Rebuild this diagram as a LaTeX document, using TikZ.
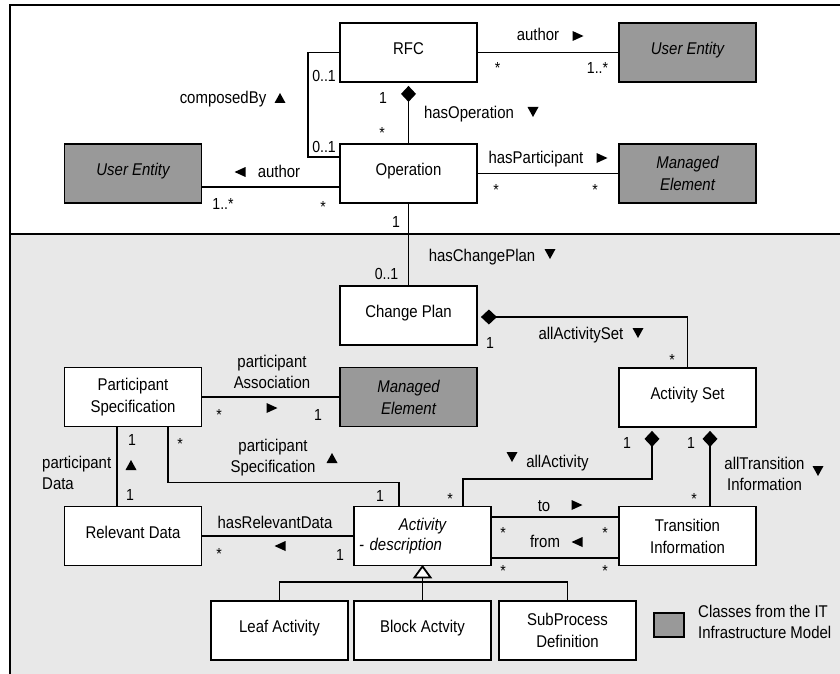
\documentclass[tikz,border=0pt]{standalone}
\usepackage{fontspec}
\setmainfont[FakeStretch=0.88]{Liberation Sans}
\usetikzlibrary{arrows.meta}
\definecolor{extgray}{HTML}{999999}
\definecolor{panelgray}{HTML}{E8E8E8}

\begin{document}
\begin{tikzpicture}[x=1pt,y=-1pt,
  cls/.style={draw,line width=1.8pt,fill=white,minimum width=137pt,minimum height=59pt,
    inner sep=0pt,align=center,font=\fontsize{17}{22}\selectfont},
  one/.style={text height=12pt,text depth=7.8pt},
  ext/.style={cls,fill=extgray,font=\fontsize{17}{22}\selectfont\itshape},
  assoc/.style={line width=1.8pt},
  comp/.style={assoc,{Diamond[length=16pt,width=15pt]}-,shorten <=3pt},
  gentri/.style={assoc,fill=white,line join=miter},
  lbl/.style={anchor=base,inner sep=0pt,font=\fontsize{17}{21.5}\selectfont},
  lbl2/.style={inner sep=0pt,align=center,font=\fontsize{17}{21.5}\selectfont},
  mult/.style={anchor=base,inner sep=0pt,font=\fontsize{16}{18}\selectfont},
  pics/triR/.style={code={\fill (-5.5,-5) -- (5.5,0) -- (-5.5,5) -- cycle;}},
  pics/triL/.style={code={\fill (5.5,-5) -- (-5.5,0) -- (5.5,5) -- cycle;}},
  pics/triU/.style={code={\fill (-5.5,5) -- (0,-5) -- (5.5,5) -- cycle;}},
  pics/triD/.style={code={\fill (-5.5,-5) -- (0,5) -- (5.5,-5) -- cycle;}},
]
\useasboundingbox (0,0) rectangle (840,674);

% frame: white upper panel, grey lower panel
\fill[panelgray] (10,234) rectangle (860,700);
\draw[line width=2pt] (10,700) -- (10,5.5) -- (860,5.5);
\draw[line width=2pt] (10,234) -- (860,234);

% classes
\node[cls,one] (rfc)   at (408.5,52.5)  {RFC};
\node[cls,one] (op)    at (408.5,173.5) {Operation};
\node[ext,one] (ueL)   at (133,173.5)   {User Entity};
\node[ext,one] (ueR)   at (687.5,52.5)  {User Entity};
\node[ext]     (meT)   at (687.5,173.5) {Managed\\Element};
\node[cls,one] (cp)    at (408.5,315.5) {Change Plan};
\node[cls]     (ps)    at (133,397)     {Participant\\Specification};
\node[ext]     (meM)   at (408.5,397)   {Managed\\Element};
\node[cls,one] (as)    at (687.5,397.5) {Activity Set};
\node[cls,one] (rd)    at (133,536)     {Relevant Data};
\node[cls,text width=127pt,align=left,font=\fontsize{17}{20}\selectfont\itshape]
               (act)   at (422.5,536)   {\makebox[127pt]{Activity}\\- description};
\node[cls]     (ti)    at (687.5,536)   {Transition\\Information};
\node[cls,one] (leaf)  at (279.5,630.5) {Leaf Activity};
\node[cls,one] (block) at (422.5,630.5) {Block Actvity};
\node[cls]     (sub)   at (567.5,630.5) {SubProcess\\Definition};

% RFC -- User Entity (author)
\draw[assoc] (rfc.east) -- (ueR.west);
\node[lbl] (lAuthorR) at (538,41) {author};
\pic at (578,36) {triR};
\node[mult] (mA1) at (497.5,74) {*};
\node[mult] (mA2) at (597.5,74) {1..*};

% Operation -- Managed Element (hasParticipant)
\draw[assoc] (op.east) -- (meT.west);
\node[lbl] (lHasPart) at (536,163) {hasParticipant};
\pic at (602,158) {triR};
\node[mult] (mP1) at (496,195) {*};
\node[mult] (mP2) at (595,195) {*};

% RFC -- Operation (hasOperation)
\draw[comp] (rfc.south) -- (op.north);
\node[lbl] (lHasOp) at (469,118) {hasOperation};
\pic at (533,112) {triD};
\node[mult] (mO1) at (383,103) {1};
\node[mult] (mO2) at (382,139) {*};

% Operation -- RFC (composedBy)
\draw[assoc] (rfc.west) -- ++(-31,0) |- ([yshift=16.5pt]op.west);
\node[lbl] (lComposed) at (223,104) {composedBy};
\pic at (280,98) {triU};
\node[mult] (mC1) at (324,82) {0..1};
\node[mult] (mC2) at (324,153) {0..1};

% Operation -- User Entity (author)
\draw[assoc] ([yshift=-13.5pt]op.west) -- ([yshift=-13.5pt]ueL.east);
\node[lbl] (lAuthorL) at (279,177) {author};
\pic at (240,172) {triL};
\node[mult] (mU1) at (223,209) {1..*};
\node[mult] (mU2) at (323,212) {*};

% Operation -- Change Plan (hasChangePlan)
\draw[assoc] (op.south) -- (cp.north);
\node[lbl] (lHasCP) at (482,261) {hasChangePlan};
\pic at (550,254) {triD};
\node[mult] (mCP1) at (396,227) {1};
\node[mult] (mCP2) at (386.5,279) {0..1};

% Change Plan -- Activity Set (allActivitySet)
\draw[comp] ([yshift=-1.5pt]cp.east) -| (as.north);
\node[lbl] (lAllAS) at (581,339) {allActivitySet};
\pic at (638,333) {triD};
\node[mult] (mS1) at (490,348) {1};
\node[mult] (mS2) at (672,365) {*};

% Participant Specification -- Managed Element
\draw[assoc] (ps.east) -- (meM.west);
\node[lbl2,anchor=north] (lPartAssoc) at (272,354.8) {participant\\Association};
\pic at (272,408) {triR};
\node[mult] (mM1) at (219,420) {*};
\node[mult] (mM2) at (318,420) {1};

% Participant Specification -- Relevant Data
\draw[assoc] ([xshift=-16pt]ps.south) -- ([xshift=-16pt]rd.north);
\node[lbl2,anchor=north west,align=left] (lPartData) at (42,455.8) {participant\\Data};
\pic at (131,465) {triU};
\node[mult] (mD1) at (132,445) {1};
\node[mult] (mD2) at (130,500) {1};

% Activity -- Participant Specification
\draw[assoc] ([xshift=35pt]ps.south) -- ++(0,55) -| ([xshift=-23.5pt]act.north);
\node[lbl2,anchor=north] (lPartSpec) at (273,438.8) {participant\\Specification};
\pic at (332,458) {triU};
\node[mult] (mPS1) at (180,449) {*};
\node[mult] (mPS2) at (380,501) {1};

% Activity -- Relevant Data
\draw[assoc] (rd.east) -- (act.west);
\node[lbl] (lHasRD) at (275,528) {hasRelevantData};
\pic at (280,546) {triL};
\node[mult] (mR1) at (219,559) {*};
\node[mult] (mR2) at (340,560) {1};

% Activity Set -- Activity (allActivity)
\draw[comp] ([xshift=-35.5pt]as.south) -- ++(0,51) -| ([xshift=40.5pt]act.north);
\node[lbl] (lAllAct) at (557.5,467) {allActivity};
\pic at (512,457) {triD};
\node[mult] (mAA1) at (627,448) {1};
\node[mult] (mAA2) at (450,504) {*};

% Activity Set -- Transition Information
\draw[comp] ([xshift=22.5pt]as.south) -- ([xshift=22.5pt]ti.north);
\node[lbl2,anchor=north] (lAllTI) at (764.5,456.8) {allTransition\\Information};
\pic at (818,471) {triD};
\node[mult] (mT1) at (691,448) {1};
\node[mult] (mT2) at (694,504) {*};

% Activity -- Transition Information (to, from)
\draw[assoc] ([yshift=19pt]act.east) -- ([yshift=19pt]ti.west);
\node[lbl] (lTo) at (544,511) {to};
\pic at (577,505) {triR};
\node[mult] (mTo1) at (503,538) {*};
\node[mult] (mTo2) at (605,538) {*};

\draw[assoc] ([yshift=-22pt]act.east) -- ([yshift=-22pt]ti.west);
\node[lbl] (lFrom) at (545,547) {from};
\pic at (577,542) {triL};
\node[mult] (mF1) at (503,576) {*};
\node[mult] (mF2) at (605,576) {*};

% specialisations of Activity: hollow generalisation triangle under Activity
\draw[assoc] (block.north) -- ([yshift=-11pt]act.south);
\draw[assoc] (leaf.north) -- ++(0,-18) -| (sub.north);
\draw[gentri] (act.south) -- ++(8,11) -- ++(-16,0) -- cycle;

% key
\node[draw,line width=1.5pt,fill=extgray,minimum width=30pt,minimum height=24pt,inner sep=0pt]
  (key) at (669,625) {};
\node[lbl2,anchor=north west,align=left] (keyText) at (698,604.8)
  {Classes from the IT\\Infrastructure Model};
\end{tikzpicture}
\end{document}
